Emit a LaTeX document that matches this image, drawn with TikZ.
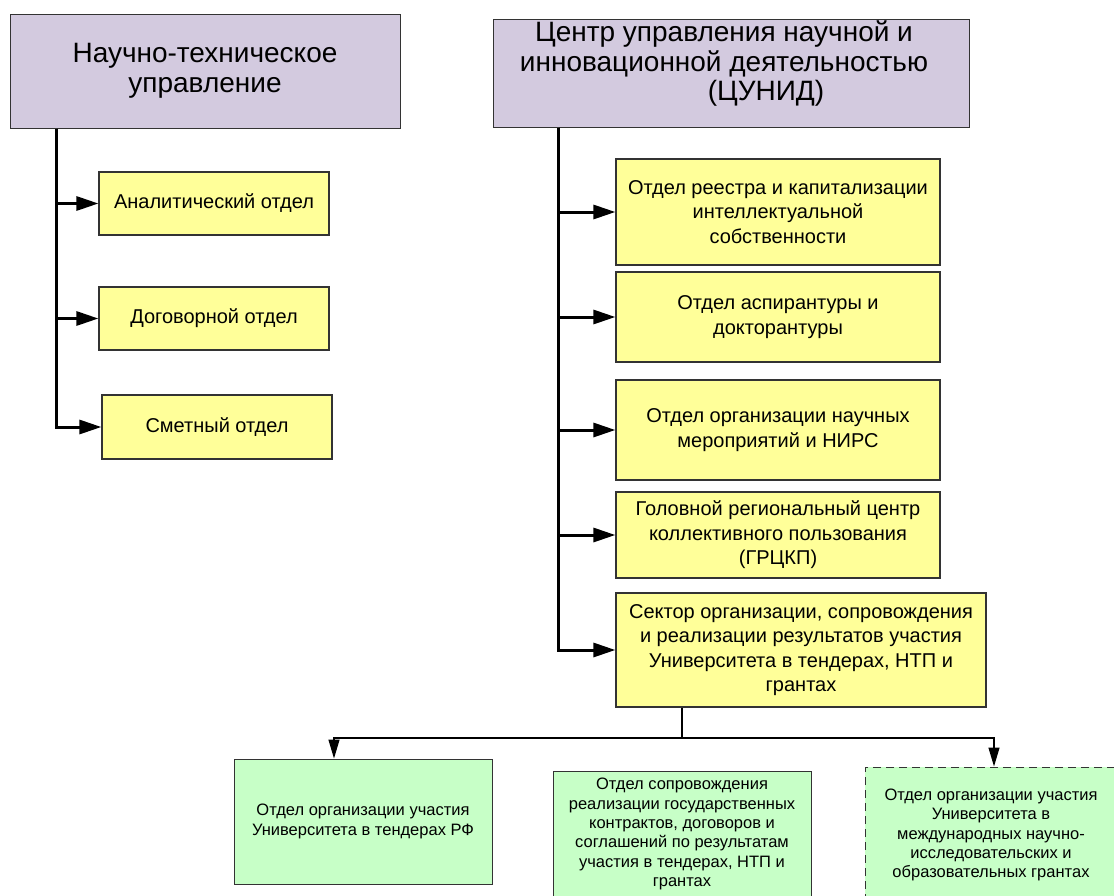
\documentclass[tikz,border=0pt]{standalone}
\usepackage{fontspec}
\setmainfont{Liberation Sans}
\usepackage{tikz}
\usetikzlibrary{calc,arrows.meta}
\definecolor{headlilac}{RGB}{211,202,223}
\definecolor{deptyellow}{RGB}{255,255,153}
\definecolor{subgreen}{RGB}{199,255,199}

\begin{document}
\begin{tikzpicture}[x = 1pt, y = -1pt,
  headbox/.style = {draw = black!80, line width = 1pt, fill = headlilac},
  headtext/.style = {align = center, font = \fontsize{28}{29.5}\selectfont},
  dept/.style = {draw = black!80, line width = 1.2pt, fill = deptyellow, align = center,
    font = \fontsize{20}{24.5}\selectfont},
  subdept/.style = {draw = black!80, line width = 1pt, fill = subgreen, align = center,
    font = \fontsize{16.5}{19.3}\selectfont},
  trunk/.style = {line width = 3pt, -{Triangle[length = 22pt, width = 14pt]}},
  branch/.style = {line width = 1.3pt},
  branchend/.style = {branch, -{Triangle[length = 19pt, width = 11pt]}}]
\useasboundingbox (0,0) rectangle (1114,895);

% heads
\node [headbox, headtext, minimum width = 390pt, minimum height = 114pt] (ntu) at (205,71)
  {Научно-техническое\\управление};
\node [headbox, minimum width = 476pt, minimum height = 108pt] (cunid) at (731,73) {};
\node [headtext] (cunidtext) at (724,64)
  {Центр управления научной и\\инновационной деятельностью\\\hspace*{84pt}(ЦУНИД)};

% left column
\node [dept, minimum width = 230pt, minimum height = 63pt] (anal) at (214,203.5) {Аналитический отдел};
\node [dept, minimum width = 230pt, minimum height = 63pt] (dogov) at (214,318.5) {Договорной отдел};
\node [dept, minimum width = 230pt, minimum height = 64pt] (smet) at (217,427) {Сметный отдел};

% right column
\node [dept, minimum width = 324pt, minimum height = 106pt] (reestr) at (778,212)
  {Отдел реестра и капитализации\\интеллектуальной\\собственности};
\node [dept, minimum width = 324pt, minimum height = 90pt] (asp) at (778,317)
  {Отдел аспирантуры и\\докторантуры};
\node [dept, minimum width = 324pt, minimum height = 100pt] (nirs) at (778,430)
  {Отдел организации научных\\мероприятий и НИРС};
\node [dept, minimum width = 324pt, minimum height = 86pt] (grckp) at (778,535)
  {Головной региональный центр\\коллективного пользования\\(ГРЦКП)};
\node [dept, minimum width = 370pt, minimum height = 114pt] (sektor) at (801,650)
  {Сектор организации, сопровождения\\и реализации результатов участия\\Университета в тендерах, НТП и\\грантах};

% bottom row
\node [subdept, minimum width = 258pt, minimum height = 125pt] (tend) at (363,821.5)
  {Отдел организации участия\\Университета в тендерах РФ};
\node [subdept, minimum width = 258pt, minimum height = 126pt] (soprov) at (682,834)
  {Отдел сопровождения\\реализации государственных\\контрактов, договоров и\\соглашений по результатам\\участия в тендерах, НТП и\\грантах};
\node [subdept, dash pattern = on 8pt off 5pt, minimum width = 252pt, minimum height = 136pt] (grant) at (991,835)
  {Отдел организации участия\\Университета в\\международных научно-\\исследовательских и\\образовательных грантах};

% connectors
\coordinate (ltrunk) at (56,0);
\coordinate (rtrunk) at (558,0);
\foreach \d in {anal, dogov, smet}
  \draw [trunk] (ntu.south -| ltrunk) |- (\d.west);
\foreach \d in {reestr, asp, nirs, grckp, sektor}
  \draw [trunk] (cunid.south -| rtrunk) |- (\d.west);

\coordinate (split) at (682,738);
\draw [branch] (sektor.south -| split) -- (split);
\draw [branchend] (split) -| ([xshift = -29pt]tend.north);
\draw [branchend] (split) -| ([xshift = 3pt]grant.north);
\end{tikzpicture}
\end{document}
